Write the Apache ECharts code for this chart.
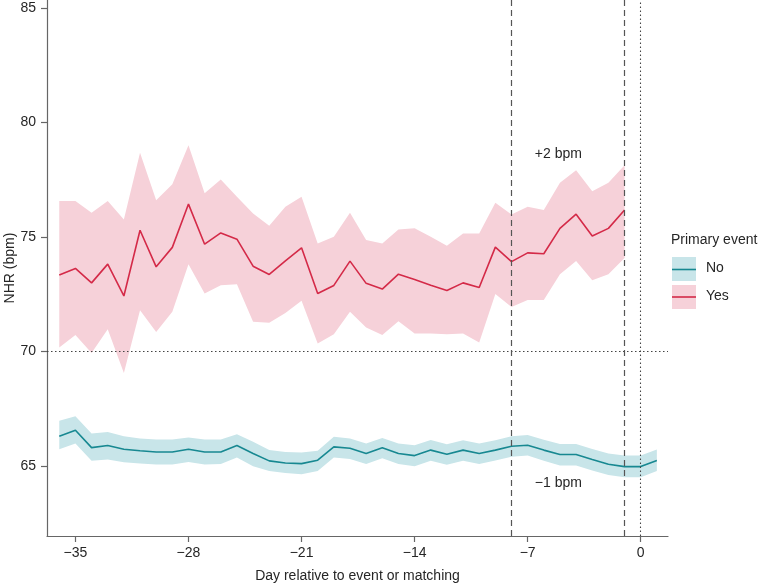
<!DOCTYPE html>
<html>
<head>
<meta charset="utf-8">
<script src="https://cdn.jsdelivr.net/npm/echarts@6/dist/echarts.min.js"></script>
<style>html,body{margin:0;padding:0;background:#fff}#c{width:761px;height:584px}</style>
</head>
<body>
<div id="c"></div>
<script>
// ---- data ----
const daysYes = [-36,-35,-34,-33,-32,-31,-30,-29,-28,-27,-26,-25,-24,-23,-22,-21,-20,-19,-18,-17,-16,-15,-14,-13,-12,-11,-10,-9,-8,-7,-6,-5,-4,-3,-2,-1];
const yesMean = [73.33,73.62,72.99,73.81,72.42,75.29,73.69,74.54,76.43,74.68,75.17,74.9,73.72,73.36,73.95,74.52,72.53,72.88,73.94,72.97,72.72,73.37,73.14,72.89,72.66,72.99,72.79,74.55,73.92,74.3,74.26,75.37,75.99,75.04,75.37,76.17];
const yesUpper = [76.56,76.56,76.05,76.56,75.76,78.67,76.6,77.3,79.0,76.9,77.5,76.75,76.02,75.48,76.31,76.75,74.71,75.0,76.05,74.86,74.71,75.32,75.37,75.0,74.61,75.15,75.15,76.49,75.98,76.31,76.17,77.36,77.91,76.99,77.36,78.13];
const yesLower = [70.17,70.71,69.93,70.97,69.06,71.8,70.85,71.73,73.8,72.53,72.89,72.93,71.29,71.25,71.68,72.21,70.34,70.75,71.73,71.04,70.71,71.32,70.78,70.78,70.75,70.78,70.39,72.5,71.94,72.24,72.24,73.37,73.95,73.11,73.37,74.08];

const daysNo = [-36,-35,-34,-33,-32,-31,-30,-29,-28,-27,-26,-25,-24,-23,-22,-21,-20,-19,-18,-17,-16,-15,-14,-13,-12,-11,-10,-9,-8,-7,-6,-5,-4,-3,-2,-1,0,1];
const noMean = [66.3,66.56,65.8,65.89,65.73,65.66,65.61,65.61,65.73,65.61,65.61,65.89,65.54,65.22,65.13,65.1,65.25,65.83,65.77,65.54,65.79,65.54,65.45,65.69,65.51,65.69,65.54,65.69,65.86,65.9,65.69,65.5,65.5,65.28,65.07,64.97,64.97,65.24];
const noUpper = [66.97,67.17,66.41,66.48,66.3,66.2,66.15,66.15,66.24,66.15,66.15,66.38,66.05,65.69,65.61,65.58,65.66,66.27,66.2,65.98,66.22,65.98,65.9,66.13,65.95,66.12,65.98,66.12,66.3,66.35,66.14,65.96,65.96,65.74,65.54,65.45,65.45,65.72];
const noLower = [65.73,65.98,65.22,65.28,65.16,65.1,65.06,65.06,65.17,65.06,65.08,65.37,64.99,64.78,64.69,64.64,64.78,65.37,65.3,65.08,65.33,65.08,64.99,65.23,65.05,65.23,65.08,65.24,65.4,65.45,65.22,65.02,65.02,64.8,64.6,64.5,64.5,64.78];

const xTicks = [-35,-28,-21,-14,-7,0];
const yTicks = [65,70,75,80,85];
const refH = [70];
const refDashed = [-8,-1];
const refDotted = [0];
const annotations = [{x:-5.1,y:78.62,text:'+2 bpm'},{x:-5.1,y:64.26,text:'\u22121 bpm'}];
const legendTitle = 'Primary event';
const legendNames = ['No','Yes'];

// ---- styles ----
const RED = '#d42a48', RED_FILL = '#f6d1d9';
const TEAL = '#178891', TEAL_FILL = '#c8e5e9';
const AX = '#666';
const TXT = '#262626';
const FONT = '"Liberation Sans", Arial, sans-serif';

const pairs = (xs, ys) => xs.map((x,i)=>[x, ys[i]]);
const bandData = (xs, lo, hi) => xs.map((x,i)=>[x, lo[i], hi[i]]);
const fmt = v => v < 0 ? '\u2212' + Math.abs(v) : String(v);

function makeBand(xs, lo, hi, fill) {
  return {
    type: 'custom', silent: true, z: 1,
    data: bandData(xs, lo, hi),
    encode: {x: 0, y: [1, 2]},
    renderItem: function (params, api) {
      if (params.dataIndex !== 0) return null;
      const top = [], bot = [];
      for (let i = 0; i < xs.length; i++) {
        top.push(api.coord([xs[i], hi[i]]));
        bot.push(api.coord([xs[i], lo[i]]));
      }
      return {type: 'polygon', shape: {points: top.concat(bot.reverse())}, style: {fill: fill}};
    }
  };
}

const chart = echarts.init(document.getElementById('c'), null, {renderer:'canvas'});
chart.setOption({
  animation: false,
  textStyle: {fontFamily: FONT},
  grid: {left: 47, right: 93, top: 0, bottom: 48, containLabel: false, outerBoundsMode: 'none'},
  xAxis: {
    type: 'value', min: -36.76, max: 1.69,
    name: 'Day relative to event or matching', nameLocation: 'middle', nameGap: 33, nameMoveOverlap: false,
    nameTextStyle: {fontSize: 14, color: TXT, fontFamily: FONT},
    axisLine: {show: true, onZero: false, lineStyle: {color: AX, width: 1.2}},
    axisTick: {show: true, length: 6, customValues: xTicks, lineStyle: {color: AX, width: 1.2}},
    axisLabel: {customValues: xTicks, formatter: fmt, margin: 10, fontSize: 14, color: TXT, fontFamily: FONT},
    splitLine: {show: false}
  },
  yAxis: {
    type: 'value', min: 61.94, max: 85.34,
    name: 'NHR (bpm)', nameLocation: 'middle', nameGap: 30, nameRotate: 90, nameMoveOverlap: false,
    nameTextStyle: {fontSize: 14, color: TXT, fontFamily: FONT},
    axisLine: {show: true, onZero: false, lineStyle: {color: AX, width: 1.2}},
    axisTick: {show: true, length: 6, customValues: yTicks, lineStyle: {color: AX, width: 1.2}},
    axisLabel: {customValues: yTicks, formatter: fmt, margin: 11, fontSize: 14, color: TXT, fontFamily: FONT},
    splitLine: {show: false}
  },
  series: [
    makeBand(daysNo, noLower, noUpper, TEAL_FILL),
    makeBand(daysYes, yesLower, yesUpper, RED_FILL),
    {type:'line', name:'No', data: pairs(daysNo, noMean), symbol:'none', lineStyle:{color:TEAL, width:1.6}, z:3},
    {type:'line', name:'Yes', data: pairs(daysYes, yesMean), symbol:'none', lineStyle:{color:RED, width:1.6}, z:3},
    {type:'line', name:'refs', data: [], z:5,
      markLine: {
        silent: true, symbol: 'none', label: {show:false},
        data: [
          ...refH.map(v=>({yAxis:v, lineStyle:{type:[1.5,2.5], color:'#444', width:1.1}})),
          ...refDashed.map(v=>({xAxis:v, lineStyle:{type:[6,4], color:'#555', width:1.2}})),
          ...refDotted.map(v=>({xAxis:v, lineStyle:{type:[1.5,2.5], color:'#444', width:1.1}}))
        ]
      }
    },
    {type:'scatter', name:'ann', symbolSize: 1, silent: true, z: 6,
      itemStyle: {color: 'rgba(0,0,0,0)'},
      label: {show: true, position: 'inside', fontSize: 14, color: TXT, textBorderWidth: 0, opacity: 1, fontFamily: FONT, formatter: p => p.name},
      data: annotations.map(a => ({name: a.text, value: [a.x, a.y]}))
    }
  ],
  graphic: [
    {type:'text', left: 671, top: 233, style:{text: legendTitle, font: '14px ' + FONT, fill: TXT}},
    {type:'rect', shape:{x:672, y:257, width:24, height:24}, style:{fill:TEAL_FILL}},
    {type:'line', shape:{x1:672, y1:269.5, x2:696, y2:269.5}, style:{stroke:TEAL, lineWidth:1.6}},
    {type:'text', left: 706, top: 261, style:{text: legendNames[0], font: '14px ' + FONT, fill: TXT}},
    {type:'rect', shape:{x:672, y:285, width:24, height:24}, style:{fill:RED_FILL}},
    {type:'line', shape:{x1:672, y1:297, x2:696, y2:297}, style:{stroke:RED, lineWidth:1.6}},
    {type:'text', left: 706, top: 289, style:{text: legendNames[1], font: '14px ' + FONT, fill: TXT}}
  ]
});
</script>
</body>
</html>
